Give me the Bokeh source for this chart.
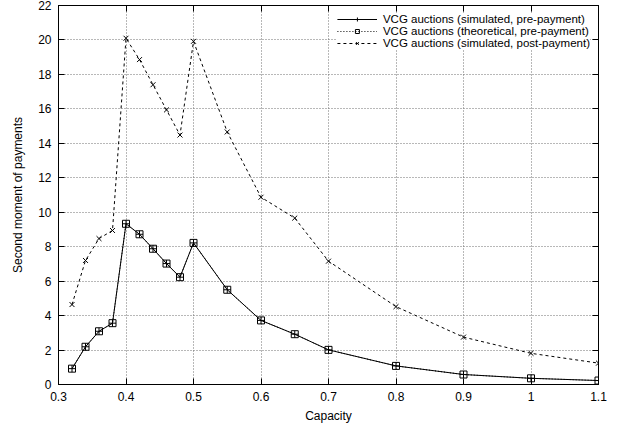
from bokeh.plotting import figure
from bokeh.models import (FixedTicker, LinearAxis, Legend, LegendItem, Range1d,
                          CustomJSTickFormatter)
from bokeh.embed import file_html
from bokeh.resources import INLINE

capacity = [0.32, 0.34, 0.36, 0.38, 0.40, 0.42, 0.44, 0.46, 0.48, 0.50,
            0.55, 0.60, 0.65, 0.70, 0.80, 0.90, 1.0, 1.1]
sim_pre = [0.92, 2.19, 3.09, 3.56, 9.33, 8.72, 7.88, 7.02, 6.23, 8.22,
           5.50, 3.72, 2.92, 2.01, 1.08, 0.58, 0.36, 0.23]
theo_pre = [0.92, 2.19, 3.09, 3.56, 9.33, 8.72, 7.88, 7.02, 6.23, 8.22,
            5.50, 3.72, 2.92, 2.01, 1.08, 0.58, 0.36, 0.23]
sim_post = [4.64, 7.20, 8.47, 8.94, 20.10, 18.86, 17.40, 15.94, 14.48, 19.92,
            14.66, 10.87, 9.66, 7.16, 4.52, 2.75, 1.81, 1.24]

x_ticks = [0.3, 0.4, 0.5, 0.6, 0.7, 0.8, 0.9, 1.0, 1.1]
y_ticks = [0, 2, 4, 6, 8, 10, 12, 14, 16, 18, 20, 22]

labels = ["VCG auctions (simulated, pre-payment)",
          "VCG auctions (theoretical, pre-payment)",
          "VCG auctions (simulated, post-payment)"]

FONT = "Liberation Sans"
FS = "12px"

p = figure(frame_width=540, frame_height=379, output_backend="svg",
           toolbar_location=None, x_range=Range1d(0.3, 1.1),
           y_range=Range1d(0, 22), min_border_left=58, min_border_top=5,
           min_border_right=12, min_border_bottom=40,
           x_axis_label="Capacity", y_axis_label="Second moment of payments")
p.background_fill_color = "white"
p.border_fill_color = "white"
p.outline_line_color = "black"
p.outline_line_width = 1

fmt = CustomJSTickFormatter(code="return String(Math.round(tick*10)/10);")
blank = CustomJSTickFormatter(code="return '';")

for ax in p.xaxis:
    ax.ticker = FixedTicker(ticks=x_ticks)
    ax.formatter = fmt
for ax in p.yaxis:
    ax.ticker = FixedTicker(ticks=y_ticks)

for ax in p.axis:
    ax.major_tick_in = 6
    ax.major_tick_out = 0
    ax.minor_tick_in = 0
    ax.minor_tick_out = 0
    ax.axis_line_color = "black"
    ax.major_tick_line_color = "black"
    ax.major_label_text_font = FONT
    ax.major_label_text_font_size = FS
    ax.major_label_text_color = "black"
    ax.axis_label_text_font = FONT
    ax.axis_label_text_font_size = FS
    ax.axis_label_text_font_style = "normal"
    ax.axis_label_text_color = "black"

p.xaxis.major_label_standoff = 7
p.xaxis.axis_label_standoff = 5
p.yaxis.major_label_standoff = 7
p.yaxis.axis_label_standoff = 10

# mirrored tick marks on top and right
top = LinearAxis(ticker=FixedTicker(ticks=x_ticks), formatter=blank,
                 major_tick_in=6, major_tick_out=0, minor_tick_in=0, minor_tick_out=0,
                 major_label_standoff=0, axis_line_color="black",
                 major_label_text_font_size="1px")
right = LinearAxis(ticker=FixedTicker(ticks=y_ticks), formatter=blank,
                   major_tick_in=6, major_tick_out=0, minor_tick_in=0, minor_tick_out=0,
                   major_label_standoff=0, axis_line_color="black",
                   major_label_text_font_size="1px")
p.add_layout(top, "above")
p.add_layout(right, "right")

for g in (p.xgrid, p.ygrid):
    g.grid_line_color = "#707070"
    g.grid_line_dash = "1 2"
    g.grid_line_width = 1
p.xgrid.ticker = FixedTicker(ticks=x_ticks)
p.ygrid.ticker = FixedTicker(ticks=y_ticks)

l1 = p.line(capacity, sim_pre, line_color="black", line_width=1)
m1 = p.scatter(capacity, sim_pre, marker="cross", size=7, line_color="black", line_width=1)
l2 = p.line(capacity, theo_pre, line_color="black", line_width=1, line_dash="1 2")
m2 = p.scatter(capacity, theo_pre, marker="square", size=7, line_color="black",
               fill_color=None, line_width=1)
l3 = p.line(capacity, sim_post, line_color="black", line_width=1, line_dash="3 3")
m3 = p.scatter(capacity, sim_post, marker="x", size=7, line_color="black", line_width=1)

legend = Legend(items=[LegendItem(label=labels[0], renderers=[l1, m1]),
                       LegendItem(label=labels[1], renderers=[l2, m2]),
                       LegendItem(label=labels[2], renderers=[l3, m3])],
                location="top_right", glyph_width=40, glyph_height=10,
                label_height=10, spacing=-2, padding=2, margin=8,
                label_text_font=FONT, label_text_font_size="11.5px",
                label_text_color="black", label_standoff=6,
                background_fill_color="white", background_fill_alpha=1,
                border_line_color=None)
p.add_layout(legend, "center")

open("out.html", "w").write(file_html(p, INLINE))
